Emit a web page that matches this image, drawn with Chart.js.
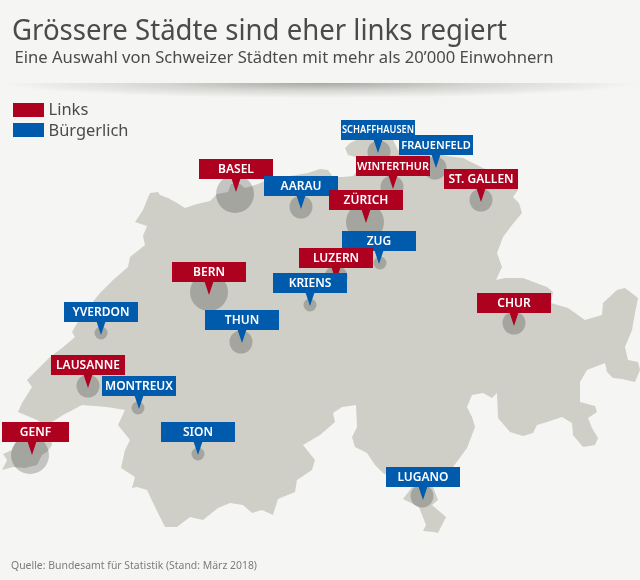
<!DOCTYPE html>
<html lang="de">
<head>
<meta charset="utf-8">
<title>Grössere Städte sind eher links regiert</title>
<style>
html,body{margin:0;padding:0;background:#f5f5f3;}
canvas{display:block;}
</style>
<script src="https://cdn.jsdelivr.net/npm/chart.js@4/dist/chart.umd.js"></script>
</head>
<body>
<canvas id="c" width="640" height="580"></canvas>
<script>
const titleText = "Grössere Städte sind eher links regiert";
const subtitleText = "Eine Auswahl von Schweizer Städten mit mehr als 20’000 Einwohnern";
const sourceText = "Quelle: Bundesamt für Statistik (Stand: März 2018)";
const legendLabels = ["Links", "Bürgerlich"];

// Cities, in stacking order
const cityNames = ["BASEL","BERN","SCHAFFHAUSEN","FRAUENFELD","WINTERTHUR","AARAU","ZÜRICH","ST. GALLEN","ZUG","LUZERN","KRIENS","CHUR","THUN","YVERDON","LAUSANNE","MONTREUX","SION","GENF","LUGANO"];
const cityParty = [0,0,1,1,0,1,0,0,1,0,1,0,1,1,0,1,1,0,1];
const citySizeClass = [3,3,2,2,2,2,3,2,1,2,1,2,2,1,2,1,1,3,2];
const cityX = [235,209,379,435,392,301,365,481,380,336,310,514,241,101,88,138,198,30,422];
const cityY = [194,292,152,168,187,207,222,200,263,277,305,323,342,333,386,408,454,455,496];
const pinX = [236,209,378,436,393,301,366,481,379,336,310,514,242,101,88,139,198,32,423];
const pinY = [192,295,153,168,189,209,223,202,264,281,306,326,343,335,388,409,455,455,500];

// Country outline in map units
const outlineX = [135,143,147,150,158,160,168,177,185,197,210,217,228,231,240,245,252,258,267,290,308,320,328,333,343,353,358,356,348,345,350,356,370,392,398,405,432,447,463,477,487,510,518,513,519,522,512,503,497,502,496,505,523,547,553,551,568,585,602,603,617,625,638,635,632,625,628,638,640,635,622,613,607,605,587,580,580,595,597,588,592,598,595,583,573,572,562,547,537,533,523,510,498,497,492,483,472,467,472,475,467,453,433,438,432,446,438,434,423,426,419,403,412,383,375,367,355,352,357,356,342,333,335,320,303,315,312,297,295,278,273,262,252,243,230,218,203,190,177,165,155,147,137,132,135,121,125,130,118,125,107,82,63,52,50,52,47,42,37,25,13,2,7,3,12,16,35,40,37,18,22,32,27,50,62,75,72,80,100,103,113,128,130,145,143,147];
const outlineY = [222,210,200,193,192,195,198,203,208,204,201,194,192,184,184,188,186,184,180,176,173,169,170,177,177,176,170,157,155,148,143,140,135,138,150,155,152,156,158,165,170,182,190,197,203,213,225,237,253,267,280,278,278,287,292,303,308,320,315,303,290,288,298,313,330,347,360,362,370,382,379,378,372,363,370,382,402,406,412,418,428,438,445,447,435,423,417,422,425,433,436,432,418,393,398,393,395,407,417,427,448,467,487,500,505,517,533,532,531,525,507,499,487,473,465,453,447,437,427,405,407,413,422,435,445,460,470,480,492,499,515,510,513,505,503,508,520,517,527,527,507,490,487,488,477,468,450,440,425,410,407,405,415,422,430,445,452,455,465,468,467,470,460,454,450,442,430,422,420,412,403,387,380,357,348,337,332,318,293,290,280,267,257,245,236,226];

const COLORS = { bg:"#f5f5f3", map:"#cfcfc7", text:"#4b4b49", source:"#7c7c7a", party:["#ae001f","#005bac"] };
const RADIUS = { 1:6.5, 2:11.5, 3:19 };
const PIN_FONT = { SCHAFFHAUSEN:10, FRAUENFELD:11, WINTERTHUR:11 };
const FAMILY = '"Noto Sans", sans-serif';

const headerPlugin = {
  id: "header",
  beforeDatasetsDraw(chart) {
    const ctx = chart.ctx;
    ctx.save();
    ctx.beginPath(); ctx.rect(0, 83, 640, 20); ctx.clip();
    ctx.translate(320, 83); ctx.scale(1, 15 / 320);
    const g = ctx.createRadialGradient(0, 0, 0, 0, 0, 320);
    g.addColorStop(0, "rgba(90,90,86,.5)");
    g.addColorStop(.5, "rgba(90,90,86,.2)");
    g.addColorStop(1, "rgba(90,90,86,0)");
    ctx.fillStyle = g;
    ctx.fillRect(-320, 0, 640, 320);
    ctx.restore();

    ctx.save();
    ctx.textAlign = "left"; ctx.textBaseline = "alphabetic";
    ctx.fillStyle = COLORS.text;
    ctx.font = "29px " + FAMILY;
    ctx.fillText(titleText, 12, 40, 495);
    ctx.font = "17px " + FAMILY;
    ctx.fillText(subtitleText, 14.5, 63, 539);
    legendLabels.forEach((t, i) => {
      ctx.fillStyle = COLORS.party[i];
      ctx.fillRect(13, 103 + i * 20, 31, 14);
      ctx.fillStyle = COLORS.text;
      ctx.font = "16.5px " + FAMILY;
      ctx.fillText(t, 48.5, 115 + i * 21, i ? 80 : 41);
    });
    ctx.fillStyle = COLORS.source;
    ctx.font = "10.5px " + FAMILY;
    ctx.fillText(sourceText, 11, 569, 246);
    ctx.restore();
  }
};

const pinPlugin = {
  id: "pins",
  afterDatasetsDraw(chart) {
    const ctx = chart.ctx, sx = chart.scales.x, sy = chart.scales.y;
    cityNames.forEach((name, i) => {
      const px = sx.getPixelForValue(pinX[i]), py = sy.getPixelForValue(pinY[i]);
      const left = Math.max(2, px - 37), right = px + 37, top = py - 33;
      ctx.save();
      ctx.fillStyle = COLORS.party[cityParty[i]];
      ctx.fillRect(left, top, right - left, 20);
      ctx.beginPath();
      ctx.moveTo(px - 4.5, py - 13.5); ctx.lineTo(px + 4.5, py - 13.5); ctx.lineTo(px, py);
      ctx.closePath(); ctx.fill();
      ctx.fillStyle = "#ffffff";
      ctx.font = "600 " + (PIN_FONT[name] || 12) + "px " + FAMILY;
      ctx.textAlign = "center"; ctx.textBaseline = "middle";
      ctx.fillText(name, (left + right) / 2, top + 10.5, 72);
      ctx.restore();
    });
  }
};

new Chart(document.getElementById("c"), {
  type: "bubble",
  data: {
    datasets: [
      {
        type: "bubble",
        label: "Städte",
        order: 1,
        clip: false,
        data: cityNames.map((n, i) => ({ x: cityX[i], y: cityY[i], r: RADIUS[citySizeClass[i]] })),
        backgroundColor: "rgba(0,0,0,.2)",
        borderWidth: 0,
        hoverRadius: 0
      },
      {
        type: "line",
        label: "Schweiz",
        order: 2,
        clip: false,
        data: outlineX.map((x, i) => ({ x, y: outlineY[i] })),
        backgroundColor: COLORS.map,
        borderColor: COLORS.map,
        borderWidth: 0,
        pointRadius: 0,
        tension: 0,
        fill: "shape"
      }
    ]
  },
  options: {
    responsive: false,
    animation: false,
    events: [],
    layout: { padding: 0, autoPadding: false },
    scales: {
      x: { type: "linear", display: false, min: 0, max: 640 },
      y: { type: "linear", display: false, min: 0, max: 580, reverse: true }
    },
    plugins: { legend: { display: false }, tooltip: { enabled: false }, title: { display: false } }
  },
  plugins: [headerPlugin, pinPlugin]
});
</script>
</body>
</html>
